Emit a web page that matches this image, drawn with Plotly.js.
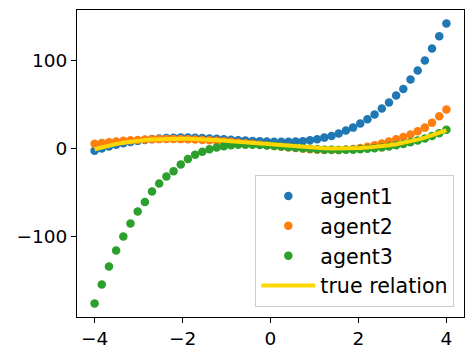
<!DOCTYPE html>
<html>
<head>
<meta charset="utf-8">
<script src="https://cdn.plot.ly/plotly-3.0.1.min.js"></script>
<style>
  html, body { margin: 0; padding: 0; background: #fff; }
  #plot { width: 474px; height: 357px; }
</style>
</head>
<body>
<div id="plot"></div>
<script>
// 50 evenly spaced x samples from -4 to 4
const xs = [
  -4.000, -3.837, -3.673, -3.510, -3.347, -3.184, -3.020, -2.857, -2.694, -2.531,
  -2.367, -2.204, -2.041, -1.878, -1.714, -1.551, -1.388, -1.224, -1.061, -0.898,
  -0.735, -0.571, -0.408, -0.245, -0.082, 0.082, 0.245, 0.408, 0.571, 0.735,
  0.898, 1.061, 1.224, 1.388, 1.551, 1.714, 1.878, 2.041, 2.204, 2.367,
  2.531, 2.694, 2.857, 3.020, 3.184, 3.347, 3.510, 3.673, 3.837, 4.000
];

const agent1 = [
  -2.5, 0.0, 2.3, 4.3, 6.0, 7.5, 8.8, 9.9, 10.8, 11.5,
  12.0, 12.3, 12.5, 12.5, 12.3, 12.0, 11.6, 11.1, 10.6, 10.1,
  9.6, 9.1, 8.7, 8.4, 8.1, 7.9, 7.8, 7.8, 8.0, 8.3,
  9.5, 10.6, 12.5, 14.4, 17.1, 20.5, 23.9, 28.5, 33.4, 38.8,
  45.6, 52.5, 60.4, 68.0, 78.7, 89.0, 100.3, 114.0, 128.0, 142.5
];

const agent2 = [
  5.5, 6.4, 7.3, 8.1, 8.8, 9.4, 9.9, 10.3, 10.6, 10.8,
  10.9, 10.9, 10.8, 10.6, 10.3, 9.9, 9.5, 9.0, 8.4, 7.7,
  7.0, 6.2, 5.4, 4.6, 3.8, 3.0, 2.2, 1.4, 0.6, -0.1,
  -0.7, -1.2, -1.5, -1.6, -1.5, -1.1, -0.4, 0.6, 2.0, 3.8,
  5.7, 8.0, 10.6, 13.2, 16.0, 19.7, 23.9, 29.6, 36.8, 44.5
];

const agent3 = [
  -176.7, -155.0, -134.5, -116.3, -100.3, -85.5, -71.8, -60.9, -49.0, -39.9,
  -31.9, -25.7, -18.0, -12.0, -7.0, -3.5, -0.8, 1.3, 2.8, 3.8,
  4.3, 4.5, 4.4, 4.1, 3.6, 3.0, 2.3, 1.6, 0.9, 0.3,
  -0.3, -0.8, -1.2, -1.4, -1.5, -1.4, -1.2, -0.8, -0.3, 0.4,
  1.3, 2.4, 3.7, 5.3, 7.1, 9.2, 11.6, 14.3, 17.4, 21.5
];

const trueRelation = [
  -0.7, 1.5, 3.45, 5.15, 6.61, 7.85, 8.89, 9.73, 10.36, 10.84,
  11.14, 11.30, 11.31, 11.20, 10.97, 10.64, 10.22, 9.70, 9.12, 8.49,
  7.82, 7.10, 6.37, 5.61, 4.87, 4.13, 3.43, 2.75, 2.12, 1.56,
  1.07, 0.66, 0.34, 0.12, 0.04, 0.09, 0.26, 0.61, 1.10, 1.78,
  2.64, 3.72, 4.99, 6.49, 8.25, 10.23, 12.47, 14.99, 17.80, 20.9
];

const xTicks = [-4, -2, 0, 2, 4];
const yTicks = [-100, 0, 100];

const scatter = (name, ys, color) => ({
  type: "scatter",
  mode: "markers",
  name: name,
  legendgroup: name,
  x: xs,
  y: ys,
  marker: { size: 8.5, color: color, line: { width: 0 } },
});

const traces = [
  scatter("agent1", agent1, "#1f77b4"),
  scatter("agent2", agent2, "#ff7f0e"),
  scatter("agent3", agent3, "#2ca02c"),
  {
    type: "scatter",
    mode: "lines",
    name: "true relation",
    legendgroup: "true",
    x: xs,
    y: trueRelation,
    line: { color: "#ffd700", width: 4 },
  },
];

const axisCommon = {
  showline: true,
  mirror: true,
  linecolor: "#000",
  linewidth: 1,
  ticks: "outside",
  ticklen: 5,
  tickwidth: 1,
  tickcolor: "#000",
  showgrid: false,
  zeroline: false,
  tickfont: { size: 18.5, color: "#000" },
};

const layout = {
  width: 474,
  height: 357,
  margin: { l: 77, r: 10, t: 10, b: 40 },
  paper_bgcolor: "#fff",
  plot_bgcolor: "#fff",
  font: { family: "DejaVu Sans", size: 18.5, color: "#000" },
  xaxis: { ...axisCommon, range: [-4.4, 4.4], tickvals: xTicks },
  yaxis: { ...axisCommon, range: [-192, 158], tickvals: yTicks },
  showlegend: true,
  legend: {
    x: 0.975,
    y: 0.032,
    xanchor: "right",
    yanchor: "bottom",
    bgcolor: "rgba(255,255,255,0.8)",
    bordercolor: "#cccccc",
    borderwidth: 1,
    itemwidth: 54,
    tracegroupgap: 0,
    traceorder: "grouped",
    font: { size: 20.6, color: "#000" },
  },
};

Plotly.newPlot("plot", traces, layout, { displayModeBar: false, staticPlot: true });
</script>
</body>
</html>
